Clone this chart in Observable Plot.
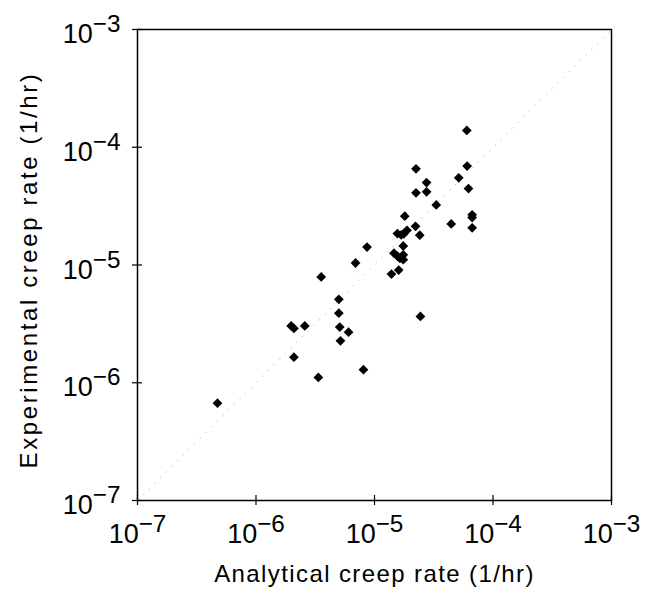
<!DOCTYPE html>
<html>
<head>
<meta charset="utf-8">
<script src="https://cdn.jsdelivr.net/npm/d3@7"></script>
<script src="https://cdn.jsdelivr.net/npm/@observablehq/plot@0.6"></script>
<style>
  html, body { margin: 0; padding: 0; background: #fff; }
  #chart svg { display: block; }
</style>
</head>
<body>
<div id="chart"></div>
<script>
// Analytical creep rate (1/hr)
const analytical = [
  4.73e-7, 1.98e-6, 2.09e-6, 2.58e-6, 2.09e-6, 3.36e-6, 3.55e-6, 5.00e-6, 5.00e-6, 5.09e-6,
  6.04e-6, 5.16e-6, 6.92e-6, 8.07e-6, 8.65e-6, 1.39e-5, 1.60e-5, 1.46e-5, 1.56e-5, 1.64e-5,
  1.75e-5, 1.75e-5, 1.75e-5, 1.56e-5, 1.68e-5, 1.77e-5, 1.88e-5, 1.80e-5, 2.22e-5, 2.41e-5,
  2.44e-5, 2.24e-5, 2.75e-5, 2.24e-5, 2.75e-5, 3.32e-5, 4.44e-5, 5.14e-5, 6.01e-5, 6.05e-5,
  6.21e-5, 6.67e-5, 6.67e-5, 6.67e-5
];
// Experimental creep rate (1/hr)
const experimental = [
  6.70e-7, 3.04e-6, 2.89e-6, 3.04e-6, 1.65e-6, 1.11e-6, 7.91e-6, 5.11e-6, 3.90e-6, 2.97e-6,
  2.69e-6, 2.27e-6, 1.04e-5, 1.29e-6, 1.42e-5, 8.38e-6, 9.06e-6, 1.26e-5, 1.19e-5, 1.14e-5,
  1.22e-5, 1.11e-5, 1.45e-5, 1.85e-5, 1.80e-5, 1.84e-5, 1.97e-5, 2.60e-5, 2.13e-5, 1.79e-5,
  3.66e-6, 6.56e-5, 5.01e-5, 4.10e-5, 4.18e-5, 3.24e-5, 2.23e-5, 5.50e-5, 1.39e-4, 6.92e-5,
  4.46e-5, 2.67e-5, 2.53e-5, 2.07e-5
];
const tickValues = [1e-7, 1e-6, 1e-5, 1e-4, 1e-3];
const diagonal = [1e-7, 1e-3];
const xTitle = "Analytical creep rate (1/hr)";
const yTitle = "Experimental creep rate (1/hr)";

const points = analytical.map((a, i) => ({a, e: experimental[i]}));
const fmt = d => "10^" + Math.round(Math.log10(d));

const chart = Plot.plot({
  width: 647,
  height: 593,
  marginLeft: 137,
  marginRight: 36,
  marginTop: 29,
  marginBottom: 93,
  style: {fontFamily: "'Liberation Sans', Arial, sans-serif", fontSize: "27px", color: "#000", background: "#fff"},
  x: {type: "log", domain: [1e-7, 1e-3]},
  y: {type: "log", domain: [1e-7, 1e-3]},
  marks: [
    Plot.line(diagonal, {x: d => d, y: d => d, stroke: "#c8c8c8", strokeWidth: 1, strokeDasharray: "1,7"}),
    Plot.frame({stroke: "#000", strokeWidth: 1.5}),
    Plot.axisX({ticks: tickValues, tickSize: 5, tickPadding: 18, tickFormat: fmt,
      label: xTitle, labelAnchor: "center", labelOffset: 81, labelArrow: "none", strokeWidth: 1.2}),
    Plot.axisX({ticks: tickValues, tickSize: -5, tickFormat: () => "", label: null, strokeWidth: 1.2}),
    Plot.axisY({ticks: tickValues, tickSize: 5, tickPadding: 12, tickFormat: fmt,
      label: yTitle, labelAnchor: "center", labelOffset: 118, labelArrow: "none", strokeWidth: 1.2}),
    Plot.axisY({ticks: tickValues, tickSize: -5, tickFormat: () => "", label: null, strokeWidth: 1.2}),
    Plot.dot(points, {x: "a", y: "e", symbol: "diamond2", r: 4.4, fill: "#000", stroke: "none"})
  ]
});

const svg = d3.select(chart);
// render exponent as superscript
svg.selectAll("text").each(function() {
  const t = this.textContent;
  const m = /^10\^(-?\d+)$/.exec(t);
  if (!m) return;
  const isY = this.closest('[aria-label="y-axis tick label"]') !== null;
  const el = d3.select(this);
  el.attr("font-size", "27px");
  el.text("");
  el.append("tspan").attr("dy", isY ? "5" : null).text("10");
  el.append("tspan").attr("dy", "-0.45em").attr("font-size", "0.9em").text("\u2212" + Math.abs(+m[1]));
});
// axis titles
svg.selectAll("text").each(function() {
  const t = this.textContent;
  if (t === xTitle) d3.select(this).attr("font-size", "24px").attr("letter-spacing", "1.4px");
  if (t === yTitle) d3.select(this).attr("font-size", "24px").attr("letter-spacing", "2.6px").attr("x", -5);
});

document.getElementById("chart").append(chart);
</script>
</body>
</html>
